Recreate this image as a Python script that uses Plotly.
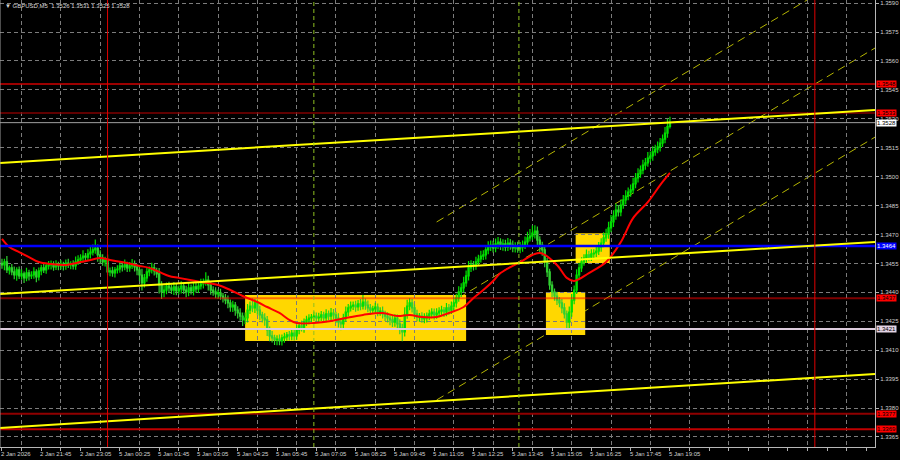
import plotly.graph_objects as go


###### DATA ######
# GBPUSD M5 closes, bar 0 = 2 Jan 20:25 (weekend gap skipped)
first_open = 1.34550
close = [
    1.34542, 1.34558, 1.34516, 1.34527, 1.34506, 1.34490, 1.34516, 1.34485,
    1.34496, 1.34475, 1.34501, 1.34485, 1.34490, 1.34506, 1.34480, 1.34511,
    1.34527, 1.34516, 1.34537, 1.34542, 1.34547, 1.34532, 1.34542, 1.34537,
    1.34547, 1.34537, 1.34552, 1.34542, 1.34547, 1.34537, 1.34558, 1.34568,
    1.34578, 1.34588, 1.34583, 1.34599, 1.34609, 1.34620, 1.34630, 1.34594,
    1.34578, 1.34558, 1.34568, 1.34506, 1.34511, 1.34501, 1.34516, 1.34521,
    1.34537, 1.34532, 1.34542, 1.34527, 1.34537, 1.34547, 1.34532, 1.34516,
    1.34490, 1.34449, 1.34475, 1.34506, 1.34516, 1.34527, 1.34511, 1.34496,
    1.34438, 1.34402, 1.34412, 1.34433, 1.34423, 1.34412, 1.34428, 1.34407,
    1.34418, 1.34433, 1.34412, 1.34402, 1.34423, 1.34407, 1.34428, 1.34418,
    1.34433, 1.34444, 1.34454, 1.34464, 1.34438, 1.34412, 1.34402, 1.34392,
    1.34397, 1.34381, 1.34371, 1.34360, 1.34345, 1.34324, 1.34334, 1.34308,
    1.34293, 1.34277, 1.34257, 1.34267, 1.34308, 1.34329, 1.34319, 1.34345,
    1.34308, 1.34283, 1.34267, 1.34257, 1.34205, 1.34174, 1.34164, 1.34153,
    1.34158, 1.34148, 1.34164, 1.34169, 1.34179, 1.34174, 1.34189, 1.34174,
    1.34205, 1.34226, 1.34215, 1.34246, 1.34257, 1.34267, 1.34272, 1.34277,
    1.34267, 1.34272, 1.34283, 1.34267, 1.34288, 1.34277, 1.34293, 1.34283,
    1.34267, 1.34246, 1.34236, 1.34267, 1.34298, 1.34319, 1.34329, 1.34334,
    1.34324, 1.34340, 1.34329, 1.34350, 1.34334, 1.34319, 1.34308, 1.34314,
    1.34324, 1.34298, 1.34303, 1.34288, 1.34277, 1.34267, 1.34257, 1.34246,
    1.34267, 1.34236, 1.34215, 1.34195, 1.34283, 1.34329, 1.34345, 1.34319,
    1.34288, 1.34272, 1.34277, 1.34262, 1.34267, 1.34277, 1.34288, 1.34298,
    1.34283, 1.34293, 1.34303, 1.34308, 1.34298, 1.34319, 1.34308, 1.34329,
    1.34345, 1.34371, 1.34402, 1.34423, 1.34449, 1.34485, 1.34527, 1.34542,
    1.34537, 1.34558, 1.34573, 1.34588, 1.34594, 1.34620, 1.34635, 1.34645,
    1.34630, 1.34651, 1.34661, 1.34640, 1.34651, 1.34635, 1.34656, 1.34645,
    1.34630, 1.34640, 1.34625, 1.34635, 1.34645, 1.34661, 1.34682, 1.34692,
    1.34707, 1.34718, 1.34671, 1.34645, 1.34620, 1.34558, 1.34506, 1.34438,
    1.34402, 1.34381, 1.34360, 1.34345, 1.34319, 1.34288, 1.34246, 1.34298,
    1.34360, 1.34412, 1.34490, 1.34527, 1.34558, 1.34578, 1.34594, 1.34583,
    1.34599, 1.34604, 1.34614, 1.34635, 1.34656, 1.34682, 1.34702, 1.34734,
    1.34765, 1.34796, 1.34827, 1.34817, 1.34853, 1.34879, 1.34899, 1.34920,
    1.34931, 1.34962, 1.34993, 1.35014, 1.35034, 1.35060, 1.35071, 1.35096,
    1.35107, 1.35128, 1.35143, 1.35154, 1.35174, 1.35195, 1.35226, 1.35260,
    1.35280,
]
# wick sizes above / below the body, in units of 0.2 pip (0.00002)
hi_wick = [
    12, 8, 15, 6, 10, 14, 7, 9, 11, 6, 13, 8, 10, 12, 7, 9,
    8, 11, 6, 10, 9, 7, 12, 8, 10, 6, 9, 11, 7, 10, 14, 12,
    10, 15, 8, 12, 18, 14, 22, 9, 12, 10, 8, 14, 9, 11, 8, 10,
    12, 9, 14, 8, 10, 13, 9, 7, 11, 16, 10, 12, 9, 13, 10, 8,
    15, 10, 12, 9, 11, 8, 13, 10, 9, 12, 8, 11, 14, 9, 10, 12,
    10, 13, 9, 20, 11, 8, 10, 12, 9, 11, 8, 10, 12, 9, 11, 8,
    10, 12, 9, 14, 16, 12, 20, 10, 9, 11, 8, 12, 10, 9, 13, 8,
    10, 12, 9, 11, 8, 10, 13, 9, 12, 10, 14, 9, 11, 10, 8, 12,
    9, 11, 10, 8, 12, 9, 13, 10, 8, 12, 9, 11, 14, 10, 12, 9,
    11, 10, 13, 18, 9, 12, 10, 8, 11, 9, 10, 12, 8, 10, 9, 11,
    10, 9, 12, 11, 20, 16, 12, 10, 9, 11, 8, 10, 12, 9, 11, 10,
    9, 12, 10, 11, 8, 13, 10, 12, 14, 11, 15, 12, 16, 14, 18, 12,
    10, 13, 11, 14, 12, 10, 15, 12, 11, 14, 13, 10, 12, 11, 13, 10,
    12, 10, 11, 13, 12, 14, 16, 18, 20, 15, 12, 10, 9, 11, 10, 8,
    10, 9, 11, 8, 10, 12, 9, 14, 16, 12, 15, 13, 12, 10, 14, 11,
    12, 10, 14, 13, 12, 15, 14, 16, 18, 15, 16, 12, 14, 13, 15, 12,
    14, 16, 13, 15, 12, 14, 13, 16, 12, 15, 11, 14, 13, 12, 16, 20,
    15,
]
lo_wick = [
    10, 14, 8, 12, 9, 11, 15, 8, 10, 13, 9, 12, 8, 10, 14, 9,
    11, 8, 10, 9, 12, 10, 8, 11, 9, 12, 10, 8, 11, 9, 10, 8,
    9, 11, 10, 8, 12, 9, 10, 18, 14, 10, 12, 9, 11, 10, 12, 9,
    10, 12, 9, 11, 10, 8, 12, 14, 16, 20, 12, 10, 11, 9, 12, 10,
    22, 18, 14, 11, 12, 10, 13, 11, 9, 12, 10, 14, 11, 9, 12, 10,
    11, 9, 12, 10, 14, 12, 10, 11, 13, 10, 12, 11, 14, 12, 13, 15,
    14, 12, 16, 11, 12, 10, 11, 13, 12, 14, 12, 15, 16, 14, 12, 13,
    14, 11, 12, 13, 10, 12, 11, 12, 10, 11, 9, 12, 10, 11, 12, 10,
    11, 12, 10, 13, 11, 10, 12, 11, 13, 14, 16, 12, 10, 11, 9, 10,
    12, 10, 11, 9, 12, 11, 13, 10, 12, 11, 10, 12, 13, 12, 14, 13,
    12, 14, 16, 24, 12, 10, 11, 12, 13, 11, 12, 10, 11, 12, 10, 11,
    12, 10, 11, 12, 13, 11, 12, 10, 11, 12, 10, 13, 11, 10, 12, 11,
    12, 10, 11, 9, 10, 12, 11, 10, 12, 11, 13, 10, 12, 11, 10, 12,
    11, 12, 10, 11, 12, 10, 11, 9, 10, 14, 16, 18, 15, 14, 13, 12,
    14, 12, 13, 11, 14, 12, 18, 16, 12, 11, 10, 12, 11, 10, 12, 11,
    10, 12, 11, 10, 12, 11, 10, 12, 11, 13, 10, 12, 11, 10, 12, 11,
    12, 10, 11, 12, 10, 11, 12, 10, 11, 12, 10, 11, 12, 10, 11, 12,
    5,
]
WICK_UNIT = 0.00002

# moving average (red), read at a few bars
ma_bars = [0, 3, 7, 11, 15, 20, 26, 32, 36, 40, 44, 51, 56, 60, 64, 68, 72, 81,
           88, 93, 98, 104, 108, 113, 117, 120, 127, 134, 140, 147, 155, 161,
           166, 171, 177, 182, 188, 192, 196, 200, 203, 211, 219, 226, 230,
           233, 239, 246, 252, 257, 263, 268, 272]
ma_vals = [1.34677, 1.34635, 1.34609, 1.34583, 1.34557, 1.34547, 1.34542,
           1.34557, 1.34568, 1.34578, 1.34568, 1.34552, 1.34537, 1.34527,
           1.34506, 1.34485, 1.34475, 1.34454, 1.34438, 1.34412, 1.34381,
           1.34350, 1.34324, 1.34293, 1.34257, 1.34241, 1.34241, 1.34251,
           1.34267, 1.34283, 1.34293, 1.34277, 1.34283, 1.34272, 1.34272,
           1.34293, 1.34324, 1.34371, 1.34412, 1.34459, 1.34500, 1.34557,
           1.34604, 1.34542, 1.34475, 1.34459, 1.34500, 1.34557, 1.34661,
           1.34785, 1.34868, 1.34956, 1.35019]

# x axis labels every 16 bars
label_bars = list(range(0, 273, 16))
label_text = ['2 Jan 2026', '2 Jan 21:45', '2 Jan 23:05', '5 Jan 00:25',
              '5 Jan 01:45', '5 Jan 03:05', '5 Jan 04:25', '5 Jan 05:45',
              '5 Jan 07:05', '5 Jan 08:25', '5 Jan 09:45', '5 Jan 11:05',
              '5 Jan 12:25', '5 Jan 13:45', '5 Jan 15:05', '5 Jan 16:25',
              '5 Jan 17:45', '5 Jan 19:05']
price_ticks = [1.3365, 1.3380, 1.3395, 1.3410, 1.3425, 1.3440, 1.3455, 1.3470,
               1.3485, 1.3500, 1.3515, 1.3530, 1.3545, 1.3560, 1.3575, 1.3590]

# horizontal levels: price, line colour, width, label bg, label text colour
levels = [
    (1.3548, '#d00000', 1.5, '#ff0000', '#000000'),
    (1.3533, '#800000', 1.5, '#ff0000', '#000000'),
    (1.3528, '#a0a0a0', 1, '#ffffff', '#000000'),
    (1.3464, '#0000ff', 2.5, '#0000ff', '#ffffff'),
    (1.3437, 'rgba(255,0,0,0.5)', 2, '#ff0000', '#000000'),
    (1.3421, '#dccbdc', 2, '#e4d4e4', '#000000'),
    (1.3377, '#900000', 2, '#ff0000', '#000000'),
    (1.3369, '#c00000', 2, '#ff0000', '#000000'),
]

# solid yellow trend lines, from left edge to right edge
trend_bars = [-0.8, 355.5]
trend_upper = [1.35071, 1.35345]
trend_mid = [1.34392, 1.34661]
trend_low = [1.33697, 1.33977]
# dashed channel
chan_bars = [177, 355.5]
chan_a = [1.34765, 1.36127]
chan_b = [1.34303, 1.35667]
chan_c = [1.33842, 1.35205]

# yellow zones: bar from, bar to, price low, price high
zones = [
    (99, 189, 1.34148, 1.34386),
    (221.5, 237.5, 1.34179, 1.34402),
    (233.6, 247.5, 1.34552, 1.34707),
]
day_separators = [43, 331]
green_marks = [127, 210.5]


###### PLOT ######
opens = [first_open] + close[:-1]
highs = [max(o, c) + w * WICK_UNIT for o, c, w in zip(opens, close, hi_wick)]
lows = [min(o, c) - w * WICK_UNIT for o, c, w in zip(opens, close, lo_wick)]
bars = list(range(len(close)))

fig = go.Figure()
fig.add_trace(go.Candlestick(
    x=bars, open=opens, high=highs, low=lows, close=close,
    increasing=dict(line=dict(color='#00e000', width=1.2), fillcolor='#008c00'),
    decreasing=dict(line=dict(color='#30d030', width=1.2), fillcolor='#a8f0a8'),
    whiskerwidth=0, hoverinfo='skip', showlegend=False,
))
fig.add_trace(go.Scatter(
    x=ma_bars, y=ma_vals, mode='lines',
    line=dict(color='#ff0000', width=2, shape='spline', smoothing=1),
    hoverinfo='skip', showlegend=False,
))

shapes = []
# channel first so the zones cover it
for ys in (chan_a, chan_b, chan_c):
    shapes.append(dict(type='line', xref='x', yref='y', layer='below',
                       x0=chan_bars[0], x1=chan_bars[1], y0=ys[0], y1=ys[1],
                       line=dict(color='#b4b400', width=1, dash='8px,5px')))
for b0, b1, p0, p1 in zones:
    shapes.append(dict(type='rect', xref='x', yref='y', layer='below',
                       x0=b0, x1=b1, y0=p0, y1=p1,
                       fillcolor='#ffd700', line=dict(width=0)))
for p, col, w, _, _ in levels:
    shapes.append(dict(type='line', xref='paper', yref='y', x0=0, x1=1,
                       y0=p, y1=p, line=dict(color=col, width=w)))
for ys in (trend_upper, trend_mid, trend_low):
    shapes.append(dict(type='line', xref='x', yref='y',
                       x0=trend_bars[0], x1=trend_bars[1], y0=ys[0], y1=ys[1],
                       line=dict(color='#ffff00', width=2)))
for b in day_separators:
    shapes.append(dict(type='line', xref='x', yref='paper', x0=b, x1=b,
                       y0=0, y1=1, line=dict(color='#e00000', width=1)))
for b in green_marks:
    shapes.append(dict(type='line', xref='x', yref='paper', x0=b, x1=b,
                       y0=0, y1=1, line=dict(color='#8fbf20', width=1, dash='4px,3px')))
# left window edge
shapes.append(dict(type='line', xref='paper', yref='paper', x0=0, x1=0, y0=0, y1=1,
                   line=dict(color='#9a9a9a', width=1)))

annotations = []
for p, _, _, bg, fg in levels:
    annotations.append(dict(xref='paper', yref='y', x=1, y=p, xanchor='left',
                            xshift=1, text='%.4f' % p, showarrow=False,
                            bgcolor=bg, borderpad=0,
                            font=dict(size=6, color=fg, family='Liberation Sans')))
for b, t in zip(label_bars, label_text):
    annotations.append(dict(xref='x', yref='paper', x=b, y=0, xanchor='left',
                            yanchor='top', xshift=-3, yshift=-2, text=t,
                            showarrow=False,
                            font=dict(size=6, color='#d0d0d0', family='Liberation Sans')))
annotations.append(dict(xref='paper', yref='paper', x=0, y=1, xanchor='left',
                        yanchor='top', xshift=3, yshift=-1, showarrow=False,
                        text='▼ GBPUSD,M5  1.3526 1.3531 1.3525 1.3528',
                        font=dict(size=6, color='#d8d8d8', family='Liberation Sans')))

fig.update_layout(
    width=900, height=460,
    margin=dict(l=0, r=25, t=0, b=13),
    paper_bgcolor='#000000', plot_bgcolor='#000000',
    shapes=shapes, annotations=annotations,
    xaxis=dict(
        range=[-0.8, 355.5], rangeslider=dict(visible=False),
        tick0=8, dtick=16, showticklabels=False,
        ticks='outside', ticklen=3, tickcolor='#b0b0b0',
        showgrid=True, gridcolor='#7c7c7c', griddash='4px,3px', gridwidth=1,
        minor=dict(tick0=0, dtick=8, ticks='outside', ticklen=3,
                   tickcolor='#b0b0b0', showgrid=False),
        showline=True, linecolor='#b8b8b8', linewidth=1, zeroline=False,
    ),
    yaxis=dict(
        range=[1.33598, 1.35916], side='right',
        tickvals=price_ticks, ticktext=['%.4f' % t for t in price_ticks],
        ticks='outside', ticklen=3, tickcolor='#b0b0b0',
        tickfont=dict(size=6, color='#d0d0d0', family='Liberation Sans'),
        showgrid=True, gridcolor='#7c7c7c', griddash='4px,3px', gridwidth=1,
        showline=True, linecolor='#b8b8b8', linewidth=1, zeroline=False,
    ),
)

# drop the page's default body margin so the chart fills the window
fig.write_html("out.html", config={'displayModeBar': False},
               post_script="document.body.style.margin='0';")
